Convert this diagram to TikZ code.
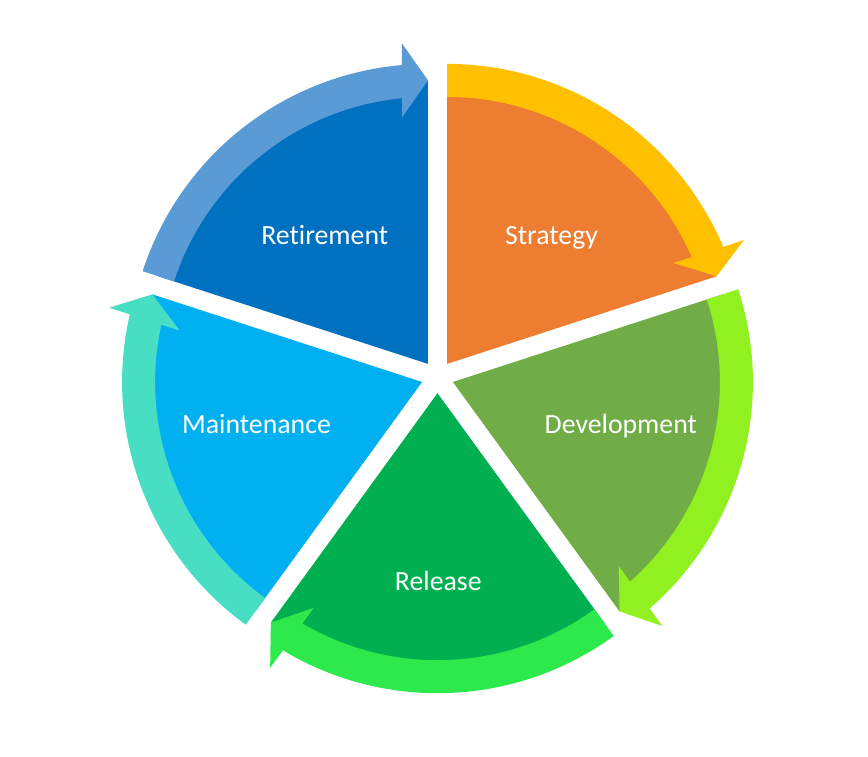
\documentclass[tikz,border=0pt]{standalone}
\usepackage{fontspec}
\setmainfont{Carlito}[Ligatures=NoCommon]
\definecolor{retA}{HTML}{0070C0}
\definecolor{retB}{HTML}{5B9BD5}
\definecolor{strA}{HTML}{ED7D31}
\definecolor{strB}{HTML}{FFC000}
\definecolor{devA}{HTML}{70AD47}
\definecolor{devB}{HTML}{90F020}
\definecolor{relA}{HTML}{00B050}
\definecolor{relB}{HTML}{2EE94C}
\definecolor{mntA}{HTML}{00B0F0}
\definecolor{mntB}{HTML}{48DEC4}
\newcommand\cycsegment[4]{%
  \begin{scope}[shift={(437.5,379)}, shift={(#1:16.2)}, rotate=#2]
    \fill[#3] (0,0) -- (0:283.5) arc[start angle=0,end angle=72,radius=283.5pt] -- cycle;
    \fill[#4] (72:300) arc[start angle=72,end angle=4.97,radius=300pt]
      -- (320.5,26) -- (283.5,0) -- (246.5,26) -- (265.73,26)
      arc[start angle=5.59,end angle=72,radius=267pt] -- cycle;
  \end{scope}}
\tikzset{lbl/.style={text=white, anchor=base, inner sep=0pt, font=\fontsize{27.8}{33}\selectfont}}
\begin{document}
\begin{tikzpicture}[x=1pt,y=1pt]
\useasboundingbox (0,0) rectangle (868,756);
\fill[white] (0,0) rectangle (868,756);
\cycsegment{54}{18}{strA}{strB}
\cycsegment{-18}{-54}{devA}{devB}
\cycsegment{-90}{-126}{relA}{relB}
\cycsegment{198}{162}{mntA}{mntB}
\cycsegment{126}{90}{retA}{retB}
\node[lbl] (retirement) at (324.7,511.7) {Retirement};
\node[lbl] (strategy) at (551.5,511.7) {Strategy};
\node[lbl] (development) at (620.8,322.7) {Development};
\node[lbl] (maintenance) at (256.5,322.7) {Maintenance};
\node[lbl] (release) at (438.3,165.3) {Release};
\end{tikzpicture}
\end{document}
